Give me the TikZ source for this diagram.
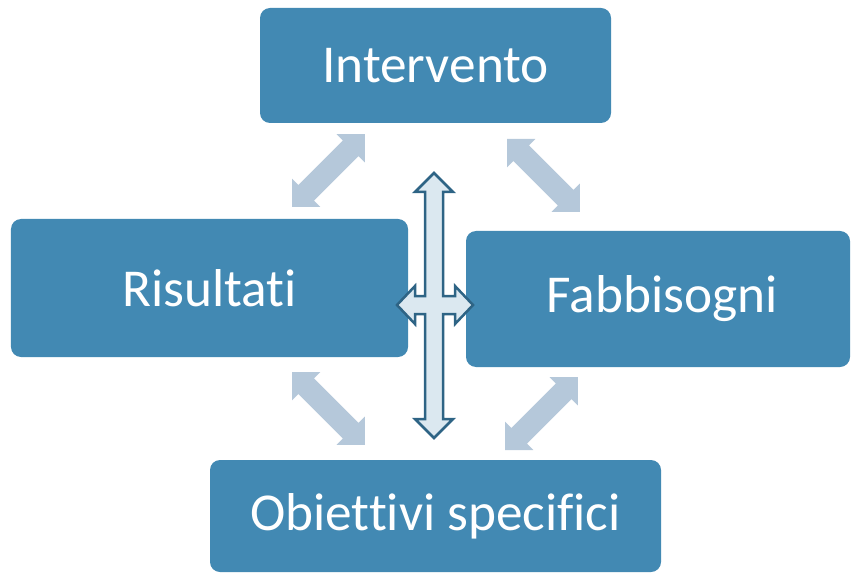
\documentclass[tikz,border=0pt]{standalone}
\usepackage{fontspec}
\setmainfont{Carlito}[Ligatures=NoCommon]
\definecolor{boxblue}{RGB}{66,137,179}
\definecolor{arrowgray}{RGB}{181,200,218}
\definecolor{crossfill}{RGB}{219,232,240}
\definecolor{crossline}{RGB}{46,100,133}
\tikzset{
  box/.style={rectangle, rounded corners=10bp, fill=boxblue, draw=none, text=white,
    font=\fontsize{53.5}{60}\selectfont, inner sep=0pt},
  dblarrow/.pic={
    \fill[arrowgray] (0,0) -- (20,20) -- (20,11) -- (83,11) -- (83,20) -- (103,0)
      -- (83,-20) -- (83,-11) -- (20,-11) -- (20,-20) -- cycle;
  }
}
\begin{document}
\begin{tikzpicture}[x=1bp,y=-1bp]
\useasboundingbox (0,0) rectangle (851,573);
\node[box, minimum width=351bp, minimum height=115bp] (int) at (435.5,65.5) {Intervento};
\node[box, minimum width=397bp, minimum height=138bp] (ris) at (209.5,288) {Risultati};
\node[box, minimum width=384bp, minimum height=136bp] (fab) at (658,299) {\hspace{8bp}Fabbisogni};
\node[box, minimum width=451bp, minimum height=112bp] (obi) at (435.5,516) {Obiettivi specifici};
\coordinate (a1) at (292,207);
\coordinate (a2) at (507,139);
\coordinate (a3) at (292,372);
\coordinate (a4) at (505,450);
\pic[rotate=45] at (a1) {dblarrow};
\pic[rotate=-45] at (a2) {dblarrow};
\pic[rotate=-45] at (a3) {dblarrow};
\pic[rotate=45] at (a4) {dblarrow};
\coordinate (c) at (434,305);
\draw[crossline, fill=crossfill, line width=2.5bp, line join=miter]
  (434,173) -- (453,192) -- (443,192) -- (443,296) -- (455,296) -- (455,286) -- (473,305)
  -- (455,324) -- (455,314) -- (443,314) -- (443,419) -- (453,419) -- (434,438)
  -- (415,419) -- (425,419) -- (425,314) -- (415,314) -- (415,324) -- (397,305)
  -- (415,286) -- (415,296) -- (425,296) -- (425,192) -- (415,192) -- cycle;
\end{tikzpicture}
\end{document}
